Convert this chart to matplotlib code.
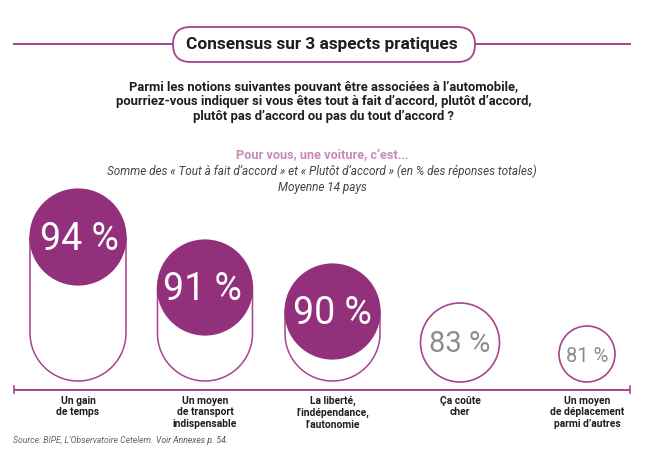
import matplotlib
matplotlib.use("Agg")
import matplotlib.pyplot as plt
from matplotlib.patches import Circle, FancyBboxPatch
import numpy as np

values = [94, 91, 90, 83, 81]
labels = ["Un gain\nde temps", "Un moyen\nde transport\nindispensable",
          "La liberté,\nl’indépendance,\nl’autonomie", "Ça coûte\ncher",
          "Un moyen\nde déplacement\nparmi d’autres"]
title = "Consensus sur 3 aspects pratiques"
question = ["Parmi les notions suivantes pouvant être associées à l’automobile,",
            "pourriez-vous indiquer si vous êtes tout à fait d’accord, plutôt d’accord,",
            "plutôt pas d’accord ou pas du tout d’accord ?"]
subtitle = "Pour vous, une voiture, c’est..."
note1 = "Somme des « Tout à fait d’accord » et « Plutôt d’accord » (en % des réponses totales)"
note2 = "Moyenne 14 pays"
source = "Source: BIPE, L’Observatoire Cetelem. "
source2 = "Voir Annexes p. 54."

# layout (pixels)
centers = [78, 205, 332.5, 460, 587]
radii = [48, 47.5, 47.5, 39.5, 28]
tops = [189, 240, 264, 303, 326]
filled = [True, True, True, False, False]
num_sizes = [27, 27, 27, 21, 14.5]
num_dx = [1.5, -2.5, 0, 0, 0]
BOTTOM = 381
PURPLE = "#92307c"
LINE = "#a5448f"
PINK = "#c98ab9"
DARK = "#1e1e1e"

BOLD = dict(family="Roboto", fontweight="bold")

fig = plt.figure(figsize=(6.49, 4.68), dpi=100)
ax = fig.add_axes([0, 0, 1, 1])
ax.set_xlim(0, 649)
ax.set_ylim(468, 0)
ax.axis("off")

# header
ax.plot([13, 173], [44, 44], color=LINE, lw=1.4, solid_capstyle="butt")
ax.plot([475, 631], [44, 44], color=LINE, lw=1.4, solid_capstyle="butt")
ax.add_patch(FancyBboxPatch((173, 27), 302, 35, boxstyle="round,pad=0,rounding_size=17.5",
                            fc="white", ec=LINE, lw=1.3))
ax.text(322, 44.5, title, ha="center", va="center", fontsize=12.4, color=DARK, **BOLD)

for y, line in zip([87, 102, 116.5], question):
    ax.text(323.5, y, line, ha="center", va="center", fontsize=9.4, color=DARK, **BOLD)
ax.text(322, 155, subtitle, ha="center", va="center", fontsize=9.2, color=PINK, **BOLD)
ax.text(322, 171, note1, ha="center", va="center", fontsize=8.5, style="italic",
        family="Roboto", fontweight="regular", color="#444444")
ax.text(322, 187, note2, ha="center", va="center", fontsize=8.5, style="italic",
        family="Roboto", fontweight="regular", color="#444444")

# capsules and circles
for v, cx, r, top, fill, fs, dx, lab in zip(values, centers, radii, tops, filled, num_sizes, num_dx, labels):
    t = np.linspace(np.pi, 0, 60)
    xs = np.concatenate([[cx - r], cx + r * np.cos(t), [cx + r]])
    ys = np.concatenate([[top + r], BOTTOM - r + r * np.sin(t), [top + r]])
    if fill:
        ax.plot(xs, ys, color=LINE, lw=1.1, zorder=2)
        ax.add_patch(Circle((cx, top + r), r + 0.6, fc=PURPLE, ec="none", zorder=3))
        col = "white"
        yy = top + r + 2.5
    else:
        ax.add_patch(Circle((cx, top + r), r, fc="white", ec=LINE, lw=1.2, zorder=3))
        col = "#8c8c8c"
        yy = top + r + 2
    ax.text(cx + dx, yy, f"{v} %", ha="center", va="center", fontsize=fs, color=col,
            family="Roboto", fontweight="regular", zorder=4)
    ax.text(cx, 395.5, lab, ha="center", va="top", fontsize=7.4, color=DARK,
            linespacing=1.24, **BOLD)

# baseline
ax.plot([14, 630], [389.5, 389.5], color=LINE, lw=1.4, solid_capstyle="butt")
ax.plot([14, 14], [386, 393], color=LINE, lw=1.2)
ax.plot([630, 630], [386, 393], color=LINE, lw=1.2)

# source
st = ax.text(13, 440.5, source, ha="left", va="center", fontsize=6.2, color="#666666",
             style="italic", family="Roboto")
fig.canvas.draw()
bb = st.get_window_extent()
ax.text(bb.x1 + 1, 440.5, source2, ha="left", va="center", fontsize=6.2, color="#555555",
        style="italic", family="Roboto")

fig.savefig("out.png", dpi=100)
